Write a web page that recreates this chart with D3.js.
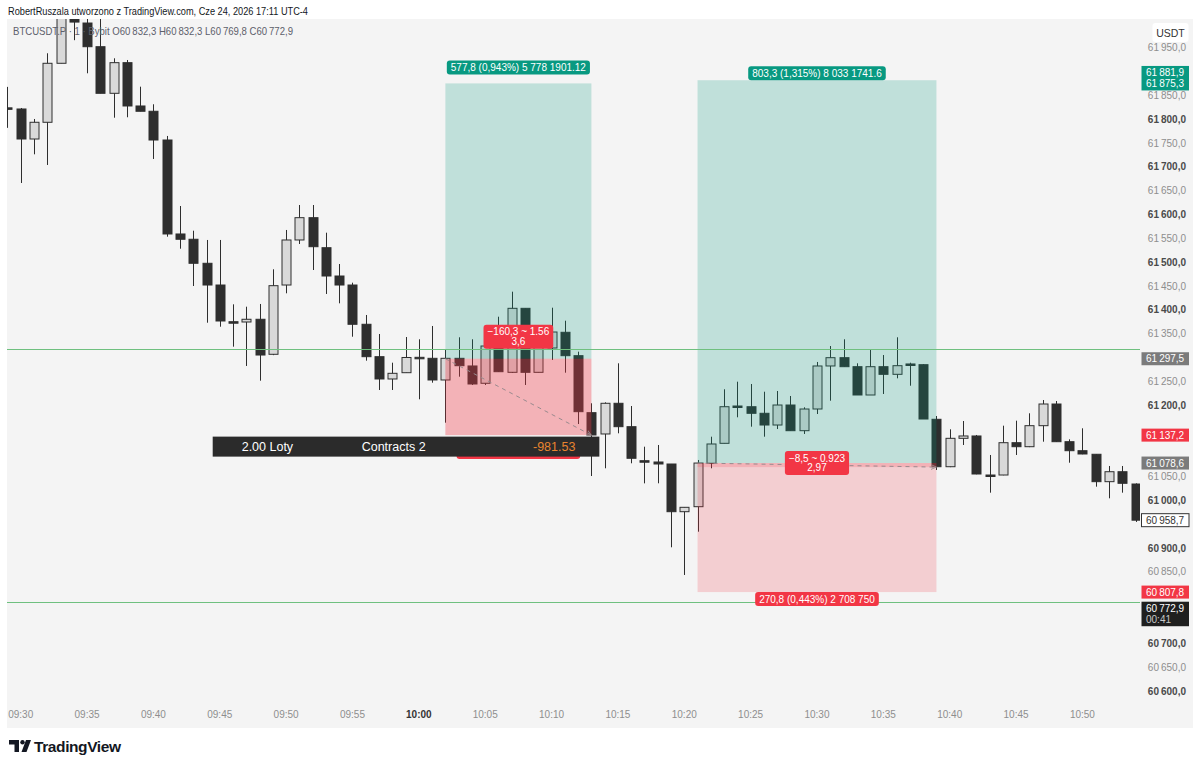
<!DOCTYPE html>
<html>
<head>
<meta charset="utf-8">
<script src="https://cdn.jsdelivr.net/npm/d3@7"></script>
<style>
html, body { margin: 0; padding: 0; background: #fff; }
svg { display: block; font-family: "Liberation Sans", Arial, sans-serif; }
</style>
</head>
<body>
<svg id="chart" width="1200" height="769"></svg>
<script>
// 1 minute candles, first one is 09:29 (minutes counted from 09:30)
var firstMinute = -1;

var opens = [61824, 61821.6, 61758.6, 61793.7, 61917.5, 62040, 62002, 61952.3, 61854.5, 61918.8,   // 09:29-09:38
    61827.9, 61816.8, 61756.5, 61559.3, 61548.2, 61497.8, 61452.2, 61375.2, 61374.6, 61380.3,        // 09:39-09:48
    61306.8, 61452.2, 61546.7, 61593.5, 61530.5, 61471.1, 61452.2, 61369.8, 61301.8, 61255,          // 09:49-09:58
    61268.2, 61300.5, 61298.4, 61252.9, 61298.4, 61282.3, 61246, 61336.8, 61269, 61403.3,            // 09:59-10:08
    61269, 61320, 61353, 61303.9, 61184.3, 61139.6, 61204, 61154.9, 61083.5, 61080.8,                // 10:09-10:18
    61076.6, 60976.5, 60987, 61078.1, 61120, 61198.3, 61196.8, 61183, 61158.4, 61200.4,              // 10:19-10:28
    61146.5, 61192, 61282.3, 61299.7, 61280.8, 61221.4, 61280.8, 61264.8, 61286.5, 61285,            // 10:29-10:38
    61170.4, 61070.9, 61130.5, 61135.4, 61053.5, 61053.5, 61121.3, 61112.9, 61157, 61202.5,          // 10:39-10:48
    61123.4, 61104.5, 61097, 61039.5, 61060.4, 61034.6];                                             // 10:49-10:54

var highs = [61868, 61823.7, 61800.6, 61938.5, 62045, 62050, 62019, 62029, 61928, 61924.4,
    61868.4, 61831.5, 61765, 61618, 61566.2, 61546.7, 61546.7, 61411.7, 61406.7, 61412.4,
    61485.2, 61567.7, 61620.1, 61620.1, 61562, 61496.3, 61457.1, 61389.3, 61349.4, 61289.2,
    61343.1, 61338.3, 61366.2, 61317.3, 61342.5, 61338.3, 61340.4, 61385.7, 61438.2, 61403.3,
    61330, 61404.6, 61377.3, 61312.3, 61204, 61206, 61287.9, 61198.3, 61112.9, 61116.5,
    61076.6, 60985.7, 61085, 61133.9, 61233.4, 61249.3, 61244.5, 61228.3, 61229.8, 61219.3,
    61195.6, 61290.7, 61324.2, 61338.3, 61287.9, 61317.3, 61305.3, 61342.5, 61289.2, 61286,
    61177.3, 61149.4, 61166.8, 61137.5, 61095.5, 61157, 61167.5, 61183, 61210.9, 61208.8,
    61128.4, 61151.5, 61097, 61072.4, 61072.4, 61036];

var lows = [61782, 61666.3, 61726.5, 61704.1, 61917.5, 61966, 61896.5, 61854.5, 61803.3, 61804.2,
    61816.8, 61716.7, 61553.6, 61528.4, 61450.1, 61373.1, 61364.7, 61322.8, 61282.3, 61251.4,
    61305, 61434.8, 61538.3, 61483.7, 61433.4, 61413.8, 61343.7, 61293.4, 61231.9, 61231.9,
    61268, 61212.4, 61247.2, 61163.3, 61259.8, 61242.4, 61242.4, 61270, 61267.6, 61242.4,
    61269, 61294.9, 61268.2, 61160.5, 61051.4, 61067.6, 61141, 61078.1, 61036, 61036.1,
    60901.8, 60843.7, 60934.5, 61067.6, 61120, 61174.6, 61154.9, 61133.9, 61150, 61146.5,
    61139.6, 61181.5, 61209.4, 61280.8, 61221.4, 61221.4, 61223.5, 61256.4, 61240.9, 61171,
    61064, 61070, 61116.5, 61055, 61016.4, 61053, 61095.5, 61112, 61123.4, 61123,
    61079.3, 61097, 61029, 61004.6, 61016.4, 60955];

var closes = [61823, 61758.6, 61793.7, 61917.5, 62035, 62004, 61952.3, 61854.5, 61918.8, 61827.9,
    61816.8, 61756.5, 61559.3, 61548.2, 61497.8, 61452.2, 61376.7, 61375, 61380.3, 61305.3,
    61450.8, 61546.7, 61593.5, 61532.6, 61471.1, 61452.2, 61369.8, 61301.8, 61255, 61266.9,
    61300.1, 61300.5, 61252.9, 61298.4, 61282.9, 61244.5, 61324.2, 61270.3, 61403.3, 61269,
    61326.3, 61353.6, 61303.9, 61186.4, 61137.5, 61204, 61154.9, 61088.6, 61083.5, 61076.6,
    60976.5, 60985.7, 61078.6, 61118.6, 61196.8, 61198.3, 61183, 61158.4, 61200.4, 61146.5,
    61192, 61282.3, 61299.7, 61280.8, 61221.4, 61280.8, 61264.8, 61282.9, 61286.5, 61171,
    61070.9, 61130.5, 61135.4, 61055.6, 61053.5, 61121.3, 61112.9, 61157, 61202.5, 61123.4,
    61104.5, 61097.6, 61039.5, 61060.4, 61036.1, 60958.7];

var timeLabels = ["09:30", "09:35", "09:40", "09:45", "09:50", "09:55", "10:00", "10:05", "10:10",
    "10:15", "10:20", "10:25", "10:30", "10:35", "10:40", "10:45", "10:50"];
var priceTicks = [60600, 60650, 60700, 60750, 60800, 60850, 60900, 60950, 61000, 61050, 61100,
    61150, 61200, 61250, 61300, 61350, 61400, 61450, 61500, 61550, 61600, 61650, 61700, 61750,
    61800, 61850, 61900, 61950];

// horizontal lines drawn by hand
var hLines = [61318, 60787];

// long position tools
var posStart = [32, 51];
var posEnd = [43, 69];
var entries = [61297.5, 61078.6];
var targets = [61875.3, 61881.9];
var stops = [61137.2, 60807.8];
var exits = [61137.2, 61070.1];
var topTexts = ["577,8 (0,943%) 5 778 1901.12", "803,3 (1,315%) 8 033 1741.6"];
var midTexts = [["\u2212160,3 ~ 1.56", "3,6"], ["\u22128,5 ~ 0.923", "2,97"]];
var bottomTexts = ["160,3 (0,262%) 1 603 750", "270,8 (0,443%) 2 708 750"];
var bottomHidden = [true, false]; // first one sits under the info bar
var barTexts = ["2.00 Loty", "Contracts 2", "-981.53"];

// price scale marks
var markPrices = [61881.9, 61297.5, 61137.2, 61078.6, 60958.7, 60807.8, 60772.9];
var markSecond = [61875.3, null, null, null, null, null, "00:41"];
var markKinds = ["target", "entry", "stop", "entry", "last", "stop", "price"];

var legendText = "BTCUSDT.P \u00b7 1 \u00b7 Bybit";
var legendOHLC = [["O", 60832.3], ["H", 60832.3], ["L", 60769.8], ["C", 60772.9]];

var svg = d3.select("#chart");

var x = d3.scaleLinear().domain([0, 84]).range([20.7, 1135.5]);
var y = d3.scaleLinear().domain([61000, 61950]).range([500.5, 47.8]);

function fmt(p) {
    var s = d3.format(".1f")(p).replace(".", ",");
    return s.slice(0, 2) + "\u2009" + s.slice(2);
}

svg.append("rect").attr("width", 1200).attr("height", 769).attr("fill", "#ffffff");
svg.append("rect").attr("x", 7).attr("y", 19).attr("width", 1186).attr("height", 709).attr("fill", "#f4f4f4");

svg.append("defs").append("clipPath").attr("id", "pane")
    .append("rect").attr("x", 7).attr("y", 19).attr("width", 1133).attr("height", 684);

var pane = svg.append("g").attr("clip-path", "url(#pane)");

var candles = opens.map(function(o, i) {
    return { t: firstMinute + i, o: o, h: highs[i], l: lows[i], c: closes[i] };
});

var dark = "#2e2e2e";

pane.selectAll("line.wick").data(candles).enter().append("line")
    .attr("class", "wick")
    .attr("x1", function(d) { return Math.round(x(d.t)) + 0.5; })
    .attr("x2", function(d) { return Math.round(x(d.t)) + 0.5; })
    .attr("y1", function(d) { return y(d.h); })
    .attr("y2", function(d) { return y(d.l); })
    .attr("stroke", dark).attr("stroke-width", 1);

pane.selectAll("rect.body").data(candles).enter().append("rect")
    .attr("class", "body")
    .attr("x", function(d) { return Math.round(x(d.t)) - 4; })
    .attr("width", 9)
    .attr("y", function(d) { return y(Math.max(d.o, d.c)); })
    .attr("height", function(d) { return Math.max(1.5, Math.abs(y(d.o) - y(d.c))); })
    .attr("fill", function(d) { return d.c > d.o ? "#d9d9d9" : dark; })
    .attr("stroke", dark).attr("stroke-width", 1);

// legend sits over the candles
svg.append("text").attr("x", 8).attr("y", 11).attr("dominant-baseline", "central")
    .attr("font-size", 10.5).attr("fill", "#131722")
    .attr("textLength", 300).attr("lengthAdjust", "spacingAndGlyphs")
    .text("RobertRuszala utworzono z TradingView.com, Cze 24, 2026 17:11 UTC-4");

var legStr = legendText + "  " + legendOHLC.map(function(d) { return d[0] + fmt(d[1]); }).join("  ");
svg.append("text").attr("x", 13).attr("y", 31).attr("dominant-baseline", "central")
    .attr("font-size", 10.5).attr("fill", "#5d606b")
    .attr("textLength", 280).attr("lengthAdjust", "spacingAndGlyphs")
    .text(legStr);

// position tools
var tools = posStart.map(function(s, i) {
    return { s: s, e: posEnd[i], entry: entries[i], target: targets[i], stop: stops[i], exit: exits[i],
        top: topTexts[i], mid: midTexts[i], bottom: bottomTexts[i], hidden: bottomHidden[i] };
});
var midOffset = [-22, 0], topGap = [9, 0], bottomGap = [10, 0];

var toolG = pane.append("g");
tools.forEach(function(d) {
    var x0 = x(d.s), x1 = x(d.e);
    toolG.append("rect").attr("x", x0).attr("width", x1 - x0)
        .attr("y", y(d.target)).attr("height", y(d.entry) - y(d.target))
        .attr("fill", "rgba(8,153,129,0.22)");
    toolG.append("rect").attr("x", x0).attr("width", x1 - x0)
        .attr("y", y(d.entry)).attr("height", y(d.stop) - y(d.entry))
        .attr("fill", "rgba(242,54,69,0.2)");
    if (d.exit < d.entry) {
        toolG.append("rect").attr("x", x0).attr("width", x1 - x0)
            .attr("y", y(d.entry)).attr("height", y(d.exit) - y(d.entry))
            .attr("fill", "rgba(242,54,69,0.18)");
    }
});

pane.selectAll("line.hline").data(hLines).enter().append("line")
    .attr("x1", 7).attr("x2", 1140)
    .attr("y1", function(d) { return Math.round(y(d)) + 0.5; })
    .attr("y2", function(d) { return Math.round(y(d)) + 0.5; })
    .attr("stroke", "#6fc07f").attr("stroke-width", 1);

svg.append("defs").append("marker").attr("id", "arr")
    .attr("viewBox", "0 0 10 10").attr("refX", 9).attr("refY", 5)
    .attr("markerWidth", 6).attr("markerHeight", 6).attr("orient", "auto")
    .append("path").attr("d", "M0,1 L9,5 L0,9").attr("fill", "none").attr("stroke", "#9a8a8e").attr("stroke-width", 1.5);

tools.forEach(function(d) {
    pane.append("line")
        .attr("x1", x(d.s)).attr("y1", y(d.entry))
        .attr("x2", x(d.e)).attr("y2", y(d.exit))
        .attr("stroke", "#9a8a8e").attr("stroke-width", 1)
        .attr("stroke-dasharray", "4,4")
        .attr("marker-end", "url(#arr)");
});

// tool labels
var labG = svg.append("g");
function labelBox(cx, yTop, lines, fill, fs, lh, padX, h, hidden) {
    var g = labG.append("g");
    var r = g.append("rect").attr("rx", 3).attr("fill", fill);
    var w = 0;
    lines.forEach(function(t, k) {
        var tx = g.append("text").attr("x", cx).attr("y", yTop + (h - lh * lines.length) / 2 + lh * (k + 0.5))
            .attr("text-anchor", "middle").attr("dominant-baseline", "central")
            .attr("font-size", fs).attr("fill", "#ffffff").text(t);
        w = Math.max(w, tx.node().getComputedTextLength());
        // a label covered by the info bar keeps only its box
        if (hidden) tx.remove();
    });
    r.attr("x", cx - w / 2 - padX).attr("width", w + 2 * padX).attr("y", yTop).attr("height", h);
}

tools.forEach(function(d, i) {
    var cx = (x(d.s) + x(d.e)) / 2;
    labelBox(cx, y(d.target) - topGap[i] - 14, [d.top], "#089981", 10, 11, 4, 14, false);
    labelBox(cx, y(d.stop) + bottomGap[i], [d.bottom], "#f23645", 10, 11, 4, 14, d.hidden);
    labelBox(cx, y(d.entry) + midOffset[i] - 12, d.mid, "#f23645", 10, 9.5, 4, 24, false);
});

// position info bar
var barRight = x(posEnd[0]) + 8, barTop = y(stops[0]) + 1.5;
svg.append("rect").attr("x", 212.7).attr("y", barTop).attr("width", barRight - 212.7).attr("height", 20)
    .attr("fill", "#2b2b2b");
svg.append("text").attr("x", 241.7).attr("y", barTop + 14.5).attr("font-size", 12.5).attr("fill", "#ffffff").text(barTexts[0]);
svg.append("text").attr("x", 361.7).attr("y", barTop + 14.5).attr("font-size", 12.5).attr("fill", "#ffffff").text(barTexts[1]);
svg.append("text").attr("x", 533).attr("y", barTop + 14.5).attr("font-size", 12.5).attr("fill", "#e8832f").text(barTexts[2]);

// price axis marks, then ticks that are not covered by them
var markFill = { target: "#089981", entry: "#7b7b7b", stop: "#f23645", last: "#ffffff", price: "#1f1f1f" };
var boxes = markPrices.map(function(p, i) {
    var kind = markKinds[i];
    var two = markSecond[i] !== null;
    var top = kind === "target" ? y(p) - 14.3 : (two ? y(p) - 7 : y(p) - 6.5);
    return { p: p, kind: kind, two: two, top: top, h: two ? 24.5 : 13, second: markSecond[i] };
});

var axisG = svg.append("g");
var freeTicks = priceTicks.filter(function(t) {
    var ty = y(t);
    return boxes.every(function(b) { return ty < b.top - 5 || ty > b.top + b.h + 5; });
});
axisG.selectAll("text.tick").data(freeTicks).enter().append("text")
    .attr("x", 1186).attr("y", function(d) { return y(d); })
    .attr("text-anchor", "end").attr("dominant-baseline", "central")
    .attr("font-size", 10)
    .attr("font-weight", function(d) { return d % 100 === 0 ? "bold" : "normal"; })
    .attr("fill", function(d) { return d % 100 === 0 ? "#4a4a4a" : "#8e8e8e"; })
    .text(fmt);

axisG.append("rect").attr("x", 1152.5).attr("y", 23).attr("width", 36).attr("height", 19).attr("rx", 3).attr("fill", "#ffffff");
axisG.append("text").attr("x", 1170.5).attr("y", 32.5).attr("text-anchor", "middle").attr("dominant-baseline", "central")
    .attr("font-size", 10.5).attr("fill", "#333333").text("USDT");

boxes.forEach(function(b) {
    axisG.append("rect").attr("x", 1141.5).attr("y", b.top).attr("width", 47.5).attr("height", b.h)
        .attr("fill", markFill[b.kind])
        .attr("stroke", b.kind === "last" ? "#333333" : "none").attr("stroke-width", 1);
    var col = b.kind === "last" ? "#333333" : "#ffffff";
    var lines = [fmt(b.p)];
    if (b.two) lines.push(typeof b.second === "number" ? fmt(b.second) : b.second);
    lines.forEach(function(t, k) {
        axisG.append("text").attr("x", 1146).attr("y", b.top + (b.two ? 6.3 + k * 11.5 : 6.7))
            .attr("dominant-baseline", "central").attr("font-size", 10)
            .attr("fill", col).attr("fill-opacity", k === 1 && b.kind === "price" ? 0.75 : 1).text(t);
    });
});

// time axis
svg.selectAll("text.time").data(timeLabels).enter().append("text")
    .attr("x", function(d, i) { return x(i * 5); })
    .attr("y", 714).attr("text-anchor", "middle").attr("dominant-baseline", "central")
    .attr("font-size", 10)
    .attr("font-weight", function(d) { return d === "10:00" ? "bold" : "normal"; })
    .attr("fill", function(d) { return d === "10:00" ? "#333333" : "#8e8e8e"; })
    .text(function(d) { return d; });

// logo
var logo = svg.append("g").attr("fill", "#131722");
logo.append("path").attr("d", "M9,740 H19 V752 H14.5 V744.5 H9 Z");
logo.append("circle").attr("cx", 22.5).attr("cy", 742.2).attr("r", 2.2);
logo.append("path").attr("d", "M26,740 H31 L26.5,752 H21.5 Z");
logo.append("text").attr("x", 34).attr("y", 752).attr("font-size", 15.5).attr("font-weight", "bold")
    .attr("letter-spacing", -0.4).text("TradingView");
</script>
</body>
</html>
